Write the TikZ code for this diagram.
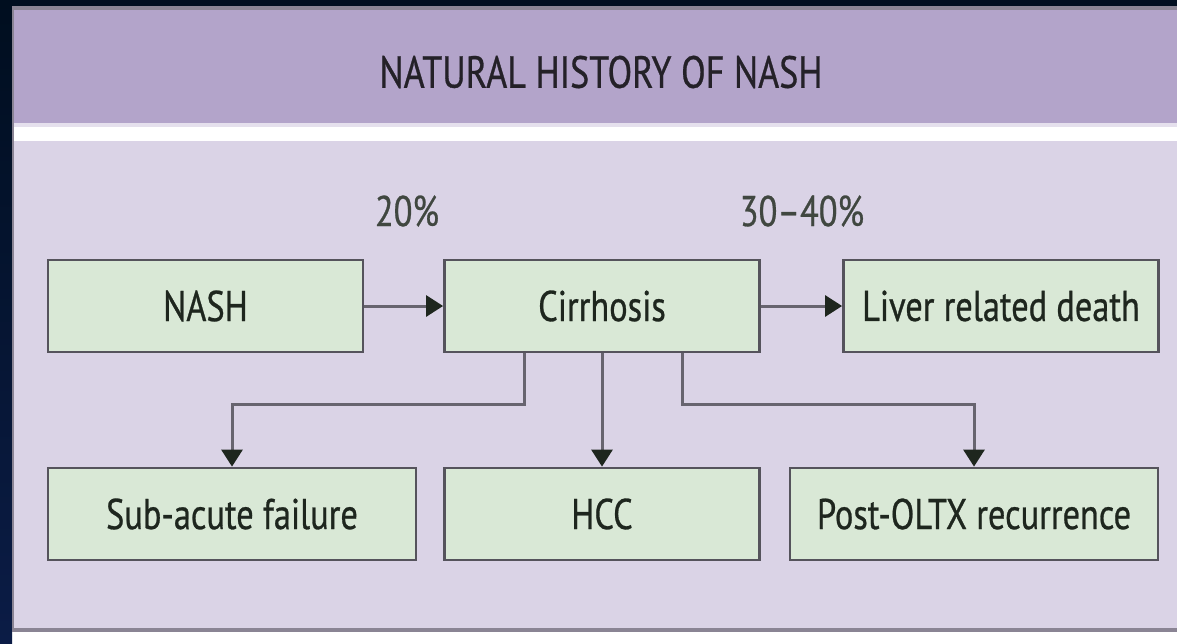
\documentclass[tikz,border=0pt]{standalone}
\usepackage{fontspec}
\setmainfont{PT Sans}[FakeStretch=0.8, FakeBold=0.6]
\usepackage{tikz}
\usetikzlibrary{arrows.meta,positioning,calc}
\definecolor{navy}{HTML}{000E1F}
\definecolor{navylo}{HTML}{0B1C46}
\definecolor{frame}{HTML}{8A8494}
\definecolor{head}{HTML}{B3A4CA}
\definecolor{body}{HTML}{DAD3E6}
\definecolor{boxfill}{HTML}{D9E8D6}
\definecolor{boxline}{HTML}{55535C}
\definecolor{ink}{HTML}{1E261E}
\definecolor{wire}{HTML}{67646F}

\begin{document}
\begin{tikzpicture}[
  x=0.5pt, y=-0.5pt, line join=miter,
  every node/.style={font=\fontsize{21.5}{25}\selectfont, text=ink},
  stg/.style={draw=boxline, fill=boxfill, line width=1.4pt,
              minimum width=157.5pt, minimum height=46pt, inner sep=0pt},
  wide/.style={minimum width=184pt},
  pct/.style={text=ink!85},
  fl/.style={-{Triangle[length=8.5pt, width=10.5pt, color=ink]}, wire, line width=1.5pt}]

\useasboundingbox (0,0) rectangle (1177,643);
\fill[white] (0,0) rectangle (1177,643);
\shade[top color=navy, bottom color=navylo] (0,0) rectangle (12,643);
\fill[navy] (0,0) rectangle (1177,6);
\fill[frame] (12,6) rectangle (1177,632);
\fill[head] (14,10) rectangle (1177,123);
\fill[body!70!white] (14,123) rectangle (1177,127);
\fill[white] (14,127) rectangle (1177,141);
\fill[body] (14,141) rectangle (1177,628);

\node[text=head!20!black, font=\fontsize{22.5}{26}\selectfont] (title) at (601,72)
  {NATURAL HISTORY OF NASH};

\node[stg] (nash) at (205.5,306) {NASH};
\node[stg] (cir) at (602,306) {Cirrhosis};
\node[stg] (death) at (1001,306) {Liver related death};

\node[stg, wide] (sub) at (232,514) {Sub-acute failure};
\node[stg] (hcc) at (602,514) {HCC};
\node[stg, wide] (post) at (974,514) {Post-OLTX recurrence};

\node[pct] (p20) at (407,211) {20\%};
\node[pct] (p3040) at (802,211) {30--40\%};

\draw[fl] (nash) -- (cir);
\draw[fl] (cir) -- (death);
\draw[fl] ([xshift=-39pt]cir.south) -- ++(0,51) -| (sub.north);
\draw[fl] (cir) -- (hcc);
\draw[fl] ([xshift=40pt]cir.south) -- ++(0,51) -| (post.north);

\end{tikzpicture}
\end{document}
